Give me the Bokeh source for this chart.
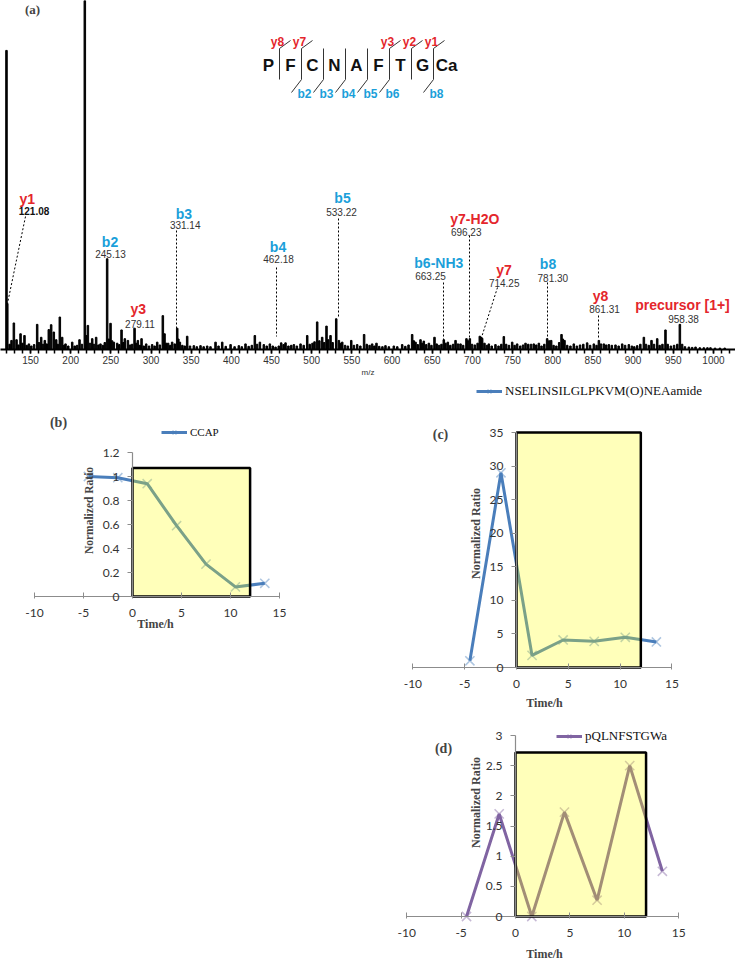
from math import pi
from bokeh.plotting import figure
from bokeh.models import (Range1d, FixedTicker, Label, Legend, LegendItem,
                          ColumnDataSource, CustomJSTickFormatter)
from bokeh.layouts import column, row
from bokeh.core.properties import value
from bokeh.embed import file_html
from bokeh.resources import INLINE

# ---------------------------------------------------------------- data
spec_mz = [120.1, 121.1, 124.0, 126.4, 129.3, 132.6, 135.0, 137.6, 140.0, 142.5,
           145.2, 148.0, 151.0, 154.5, 158.3, 160.5, 163.3, 165.5, 167.8, 170.2,
           172.8, 175.7, 179.0, 182.0, 184.0, 186.5, 189.4, 191.5, 193.6, 197.0,
           201.9, 205.0, 208.0, 211.0, 214.0, 217.6, 219.5, 221.4, 224.0, 226.8,
           229.0, 231.7, 234.5, 237.1, 240.0, 242.5, 245.4, 247.5, 249.6, 251.5,
           253.7, 257.9, 260.5, 263.3, 265.5, 267.4, 271.2, 274.0, 276.5, 279.5,
           281.5, 283.6, 286.0, 288.2, 291.0, 294.0, 297.5, 301.4, 304.5, 307.7,
           311.0, 314.7, 316.8, 319.0, 321.3, 324.0, 326.3, 329.5, 332.6, 334.0,
           335.9, 339.0, 342.0, 345.0, 348.5, 353.3, 357.0, 361.6, 365.5, 369.9,
           374.0, 380.3, 384.0, 388.6, 393.0, 399.0, 404.0, 409.3, 413.0, 417.6,
           421.5, 425.5, 429.2, 432.0, 435.5, 440.4, 444.0, 447.9, 451.5, 455.0,
           459.0, 462.0, 465.0, 467.4, 471.0, 474.5, 477.8, 481.5, 486.1, 490.0,
           494.4, 497.5, 501.0, 503.5, 506.8, 509.5, 513.0, 515.5, 518.4, 520.5,
           523.4, 526.0, 530.5, 533.8, 536.0, 538.0, 541.5, 545.0, 549.2, 552.5,
           556.6, 560.5, 565.2, 568.5, 572.0, 575.2, 578.0, 580.6, 584.0, 588.0,
           591.8, 596.0, 602.2, 606.5, 612.6, 616.5, 620.5, 625.0, 627.0, 629.2,
           632.0, 635.4, 637.5, 639.5, 642.5, 645.8, 649.0, 652.8, 655.5, 658.5,
           661.5, 664.4, 666.5, 669.4, 672.5, 676.0, 679.0, 682.0, 685.2, 688.5,
           692.6, 694.5, 696.8, 699.5, 703.0, 706.5, 709.2, 711.0, 712.1, 715.0,
           718.0, 720.4, 724.0, 728.7, 732.5, 736.0, 739.1, 742.0, 745.5, 749.5,
           752.5, 755.7, 759.5, 763.0, 766.1, 769.5, 773.0, 776.4, 779.5, 782.7,
           786.0, 789.5, 793.0, 795.5, 798.0, 801.0, 804.5, 808.0, 810.9, 812.5,
           814.6, 818.0, 822.0, 826.2, 830.0, 834.0, 838.0, 842.8, 846.5, 851.1,
           854.5, 857.4, 860.0, 863.6, 866.5, 869.8, 873.5, 878.1, 882.0, 886.4,
           890.0, 894.7, 898.5, 901.5, 905.1, 909.0, 913.4, 916.0, 919.5, 922.9,
           926.0, 930.0, 933.0, 936.5, 940.3, 943.0, 947.0, 951.0, 955.0, 958.2,
           961.0, 964.5, 969.4, 973.5, 977.7, 983.0, 988.0, 992.5, 996.3, 1002.0,
           1008.0, 1014.0]
spec_int = [85.7, 13.2, 1.5, 2.6, 7.6, 2.8, 1.3, 4.5, 1.8, 4.0,
            1.2, 1.6, 1.0, 1.4, 7.2, 2.0, 3.5, 1.5, 2.6, 1.6,
            5.7, 7.1, 5.0, 2.8, 1.5, 9.3, 3.5, 1.2, 1.6, 1.0,
            2.1, 1.0, 1.2, 2.8, 1.5, 110.0, 4.0, 6.9, 1.8, 3.1,
            1.5, 3.5, 1.3, 1.6, 1.2, 2.0, 26.0, 3.0, 7.5, 2.5,
            2.1, 1.8, 1.4, 5.6, 2.0, 3.1, 2.6, 1.3, 1.5, 6.1,
            1.8, 2.6, 1.2, 3.1, 1.0, 1.6, 1.0, 1.4, 1.0, 2.1,
            1.3, 9.7, 4.5, 1.8, 1.8, 1.2, 2.1, 1.6, 6.1, 3.0,
            2.1, 1.2, 1.0, 3.8, 1.0, 1.1, 0.8, 1.1, 0.8, 1.0,
            0.8, 2.1, 1.0, 2.1, 0.9, 1.4, 0.8, 1.1, 0.8, 1.6,
            0.9, 1.2, 4.0, 1.5, 2.1, 1.4, 1.0, 1.6, 1.0, 0.7,
            1.0, 1.9, 1.4, 1.9, 1.0, 1.2, 1.4, 1.0, 1.6, 1.2,
            4.0, 1.5, 1.8, 2.2, 7.9, 2.5, 3.5, 2.0, 6.7, 2.8,
            4.0, 2.0, 8.8, 2.6, 1.8, 2.1, 1.2, 1.0, 2.6, 1.2,
            1.4, 1.0, 4.3, 1.5, 1.2, 1.6, 1.0, 1.8, 0.9, 0.8,
            1.1, 0.8, 1.0, 0.8, 1.4, 0.9, 1.3, 4.3, 2.5, 2.1,
            1.4, 2.8, 1.8, 2.4, 1.4, 1.8, 1.2, 3.5, 1.6, 1.2,
            1.5, 2.8, 1.8, 2.1, 1.2, 1.5, 2.6, 1.6, 1.6, 1.2,
            3.1, 2.5, 3.1, 1.5, 1.3, 1.8, 3.8, 3.5, 3.2, 1.8,
            1.2, 1.6, 1.0, 1.4, 1.0, 1.5, 3.7, 1.5, 1.2, 2.1,
            1.2, 1.6, 1.0, 1.3, 1.8, 1.5, 1.5, 1.6, 1.3, 1.8,
            1.0, 1.5, 3.1, 2.5, 2.6, 1.2, 1.0, 2.0, 4.3, 3.0,
            2.6, 1.2, 1.0, 1.6, 1.0, 1.3, 1.5, 1.9, 1.2, 1.6,
            1.2, 2.6, 1.6, 1.6, 1.3, 1.4, 1.2, 1.3, 1.0, 1.6,
            1.2, 1.4, 1.0, 0.8, 1.1, 1.5, 3.5, 1.5, 1.2, 2.6,
            1.5, 3.1, 1.2, 1.5, 5.6, 1.5, 1.0, 1.2, 1.5, 7.2,
            1.5, 0.8, 0.7, 0.6, 0.7, 0.5, 0.5, 0.5, 0.5, 0.4,
            0.4, 0.4]
spec_ticks = [150, 200, 250, 300, 350, 400, 450, 500, 550, 600, 650, 700, 750,
              800, 850, 900, 950, 1000]

ion_names = ["y1", "b2", "y3", "b3", "b4", "b5", "b6-NH3", "y7-H2O", "y7",
             "b8", "y8", "precursor [1+]"]
ion_mz_text = ["121.08", "245.13", "279.11", "331.14", "462.18", "533.22",
               "663.25", "696.23", "714.25", "781.30", "861.31", "958.38"]
ion_series = ["y", "b", "y", "b", "b", "b", "b", "y", "y", "b", "y", "y"]

peptide = ["P", "F", "C", "N", "A", "F", "T", "G", "Ca"]
b_fragments = ["b2", "b3", "b4", "b5", "b6", "b8"]
y_fragments = ["y8", "y7", "y3", "y2", "y1"]

time_h = [-4.5, -1.5, 1.5, 4.5, 7.5, 10.5, 13.5]
ccap_ratio = [1.0, 0.99, 0.94, 0.59, 0.27, 0.08, 0.11]
nsel_ratio = [1.0, 29.0, 1.8, 4.1, 3.9, 4.5, 3.8]
pqln_ratio = [0.0, 1.7, 0.0, 1.73, 0.27, 2.5, 0.75]
light_window = [0, 12]
box_tops = [1.07, 35, 2.72]
time_ticks = [-10, -5, 0, 5, 10, 15]
ticks_b = [0, 0.2, 0.4, 0.6, 0.8, 1, 1.2]
ticks_c = [0, 5, 10, 15, 20, 25, 30, 35]
ticks_d = [0, 0.5, 1, 1.5, 2, 2.5, 3]

# ---------------------------------------------------------------- styles
RED, BLUE = "#E4262C", "#1B9FDA"
SANS, SERIF, XL = "Liberation Sans", "Liberation Serif", "Lato"


# reference-pixel -> spectrum data helpers (layout only)
def ax_(px):
    return 112.66 + px * 1.2446


def ay_(py):
    return (349.0 - py) / 3.49


ion_label_px = {"y1": (26.7, 198), "b2": (109.5, 241), "y3": (137.7, 308),
                "b3": (183.3, 213), "b4": (277.5, 246), "b5": (342, 197),
                "b6-NH3": (438.3, 262), "y7-H2O": (474.3, 218), "y7": (503.5, 269),
                "b8": (547.5, 263), "y8": (600, 295), "precursor [1+]": (682, 304)}
ion_value_px = {"y1": (33.5, 210), "b2": (110, 253), "y3": (139.5, 323),
                "b3": (184.7, 224), "b4": (278, 258), "b5": (341, 211),
                "b6-NH3": (430, 275), "y7-H2O": (465.7, 231), "y7": (503.7, 282),
                "b8": (552.3, 277), "y8": (604, 308), "precursor [1+]": (683, 318)}
leader_px = {"y1": (25, 216, 7, 303), "b3": (176, 230, 176, 328),
             "b4": (276, 267, 276, 336), "b5": (338, 218, 338, 318),
             "b6-NH3": (443, 282, 443, 340), "y7-H2O": (469, 235, 469, 339),
             "y7": (497, 287, 481, 337), "b8": (547, 282, 547, 339),
             "y8": (598, 315, 598, 339)}

# ---------------------------------------------------------------- panel (a)
p_a = figure(width=735, height=380, x_range=Range1d(ax_(0), ax_(735)),
             y_range=Range1d(0, 100), output_backend="svg", toolbar_location=None,
             min_border_left=0, min_border_right=0, min_border_top=0, min_border_bottom=31)
p_a.grid.visible = False
p_a.outline_line_color = None
p_a.yaxis.visible = False
p_a.vbar(x=spec_mz, top=spec_int, width=1.9, color="black")

xa = p_a.xaxis[0]
xa.ticker = FixedTicker(ticks=spec_ticks, minor_ticks=list(range(120, 1021, 10)))
xa.axis_line_width = 2
xa.major_tick_in = 0
xa.minor_tick_in = 0
xa.major_tick_out = 4
xa.minor_tick_out = 4
xa.major_tick_line_width = 1.5
xa.minor_tick_line_width = 1.5
xa.major_label_text_font = SANS
xa.major_label_text_font_size = "10px"
xa.major_label_text_color = "#333333"
xa.major_label_standoff = 2
xa.axis_label = "m/z"
xa.axis_label_text_font = SANS
xa.axis_label_text_font_size = "8px"
xa.axis_label_text_font_style = "normal"
xa.axis_label_text_color = "#333333"
xa.axis_label_standoff = 1

names_src = ColumnDataSource(dict(
    x=[ax_(ion_label_px[n][0]) for n in ion_names],
    y=[ay_(ion_label_px[n][1]) for n in ion_names],
    t=ion_names,
    c=[RED if s == "y" else BLUE for s in ion_series]))
p_a.text(x="x", y="y", text="t", text_color="c", source=names_src,
         text_font=value(SANS), text_font_style="bold", text_font_size="14px",
         text_align="center", text_baseline="middle")
vals_src = ColumnDataSource(dict(
    x=[ax_(ion_value_px[n][0]) for n in ion_names],
    y=[ay_(ion_value_px[n][1]) for n in ion_names],
    t=ion_mz_text,
    s=["bold" if n == "y1" else "normal" for n in ion_names],
    c=["#111111" if n == "y1" else "#333333" for n in ion_names]))
p_a.text(x="x", y="y", text="t", text_color="c", text_font_style="s", source=vals_src,
         text_font=value(SANS), text_font_size="10px",
         text_align="center", text_baseline="middle")
lead = [leader_px[n] for n in ion_names if n in leader_px]
p_a.segment(x0=[ax_(l[0]) for l in lead], y0=[ay_(l[1]) for l in lead],
            x1=[ax_(l[2]) for l in lead], y1=[ay_(l[3]) for l in lead],
            line_dash="2 2", line_width=1, line_color="black")

p_a.add_layout(Label(x=ax_(32), y=ay_(9), text="(a)", text_font=SERIF,
                     text_font_style="bold", text_font_size="13px",
                     text_align="center", text_baseline="middle"))

# peptide fragmentation diagram
SP, P0 = 22.0, 268.0
letter_px = [P0 + SP * i + (2 if i == len(peptide) - 1 else 0) for i in range(len(peptide))]
p_a.text(x=[ax_(v) for v in letter_px],
         y=[ay_(65)] * len(peptide), text=peptide, text_color="#111111",
         text_font=value(SANS), text_font_style="bold", text_font_size="17px",
         text_align="center", text_baseline="middle")
sites = {}
for f in b_fragments:
    sites.setdefault(int(f[1:]), {})["b"] = f
for f in y_fragments:
    sites.setdefault(len(peptide) - int(f[1:]), {})["y"] = f
dxs, dys, fx, fy, ft, fc = [], [], [], [], [], []
for k in sorted(sites):
    d = sites[k]
    sx = P0 + SP * (k - 0.5)
    pts = []
    if "y" in d:
        pts.append((sx + 11, 40))
        fx.append(ax_(sx - 2)); fy.append(ay_(41)); ft.append(d["y"]); fc.append(RED)
    pts += [(sx, 48), (sx, 79)]
    if "b" in d:
        pts.append((sx - 10, 92))
        fx.append(ax_(sx + 3)); fy.append(ay_(93)); ft.append(d["b"]); fc.append(BLUE)
    dxs.append([ax_(q[0]) for q in pts])
    dys.append([ay_(q[1]) for q in pts])
p_a.multi_line(xs=dxs, ys=dys, line_color="#333333", line_width=1)
p_a.text(x=fx, y=fy, text=ft, text_color=fc, text_font=value(SANS),
         text_font_style="bold", text_font_size="12px",
         text_align="center", text_baseline="middle")


# ---------------------------------------------------------------- panels (b)-(d)
def make_panel(g, ratio, color, name, box_top, yticks, leg_font, tag, tag_px,
               leg_px, ylab_px, xlab_px, ylab_size):
    frame_h = g["h"]
    x0 = -(g["zero_x"] - g["left"]) / g["ppx"]
    x1 = x0 + g["w"] / g["ppx"]
    y1 = (g["zero_y"] - g["top"]) / g["ppy"]
    y0 = y1 - frame_h / g["ppy"]

    def dxp(px):
        return x0 + (px - g["left"]) / g["ppx"]

    def dyp(py):
        return y1 - (py - g["top"]) / g["ppy"]

    p = figure(width=g["w"], height=g["h"], x_range=Range1d(x0, x1),
               y_range=Range1d(y0, y1), output_backend="svg", toolbar_location=None,
               min_border_left=0, min_border_right=0, min_border_top=0,
               min_border_bottom=0)
    p.grid.visible = False
    p.outline_line_color = None
    fmt = CustomJSTickFormatter(code="return tick.toString();")
    for axis, ticks, bnd in ((p.xaxis[0], time_ticks, (-10, 15)),
                             (p.yaxis[0], yticks, (0, yticks[-1]))):
        axis.fixed_location = 0
        axis.ticker = FixedTicker(ticks=ticks, minor_ticks=[])
        axis.bounds = bnd
        axis.formatter = fmt
        axis.axis_line_color = "#8C8C8C"
        axis.axis_line_width = 1.2
        axis.major_tick_line_color = "#8C8C8C"
        axis.major_label_text_font = XL
        axis.major_label_text_font_size = "12px"
        axis.major_label_text_color = "#333333"
    p.xaxis[0].major_tick_in = 4
    p.xaxis[0].major_tick_out = 2
    p.xaxis[0].major_label_standoff = 10
    p.yaxis[0].major_tick_in = 0
    p.yaxis[0].major_tick_out = 5
    p.yaxis[0].major_label_standoff = 8

    ln = p.line(time_h, ratio, line_color=color, line_width=3)
    sc = p.scatter(time_h, ratio, marker="x", size=13, line_color=color,
                   line_alpha=0.45, line_width=1.5)
    p.quad(left=light_window[0], right=light_window[1], bottom=0, top=box_top,
           fill_color="#FFFF00", fill_alpha=0.27, line_color="black", line_width=2.5)

    leg = Legend(items=[LegendItem(label=name, renderers=[ln, sc])],
                 location=(leg_px[0] - g["left"] - 1,
                           g["top"] + frame_h - leg_px[1] - 7),
                 border_line_alpha=0, background_fill_alpha=0, padding=0, margin=0,
                 glyph_width=26, glyph_height=14, label_height=14, label_standoff=3,
                 label_text_font=SERIF, label_text_font_size=leg_font,
                 label_text_color="#111111")
    p.add_layout(leg)
    p.add_layout(Label(x=dxp(tag_px[0]), y=dyp(tag_px[1]), text=tag, text_font=SERIF,
                       text_font_style="bold", text_font_size="14px",
                       text_align="center", text_baseline="middle"))
    p.add_layout(Label(x=dxp(ylab_px[0]), y=dyp(ylab_px[1]), text="Normalized Ratio",
                       angle=pi / 2, text_font=SERIF, text_font_style="bold",
                       text_font_size=ylab_size, text_align="center",
                       text_baseline="middle"))
    p.add_layout(Label(x=dxp(xlab_px[0]), y=dyp(xlab_px[1]), text="Time/h",
                       text_font=SERIF, text_font_style="bold", text_font_size="12px",
                       text_align="center", text_baseline="middle"))
    return p


geo_b = dict(left=0, top=380, w=370, h=260, zero_x=132, ppx=9.8,
             zero_y=596, ppy=120.0)
geo_c = dict(left=370, top=380, w=365, h=330, zero_x=516, ppx=10.36,
             zero_y=667, ppy=6.714)
geo_d = dict(left=370, top=710, w=365, h=256, zero_x=515, ppx=10.88,
             zero_y=916, ppy=60.33)

p_b = make_panel(geo_b, ccap_ratio, "#4A7EBB", "CCAP", box_tops[0], ticks_b, "11px",
                 "(b)", (58, 422), (162, 432), (88, 510), (155, 623), "11.5px")
p_c = make_panel(geo_c, nsel_ratio, "#4A7EBB", "NSELINSILGLPKVM(O)NEAamide",
                 box_tops[1], ticks_c, "13px", "(c)", (440, 434), (477, 392),
                 (475, 533), (544, 702), "12px")
p_d = make_panel(geo_d, pqln_ratio, "#8064A2", "pQLNFSTGWa", box_tops[2], ticks_d,
                 "13px", "(d)", (443, 748), (557, 737), (475, 802), (544, 953), "12px")

layout = column(p_a, row(p_b, column(p_c, p_d)))
open("out.html", "w").write(file_html(layout, INLINE))
